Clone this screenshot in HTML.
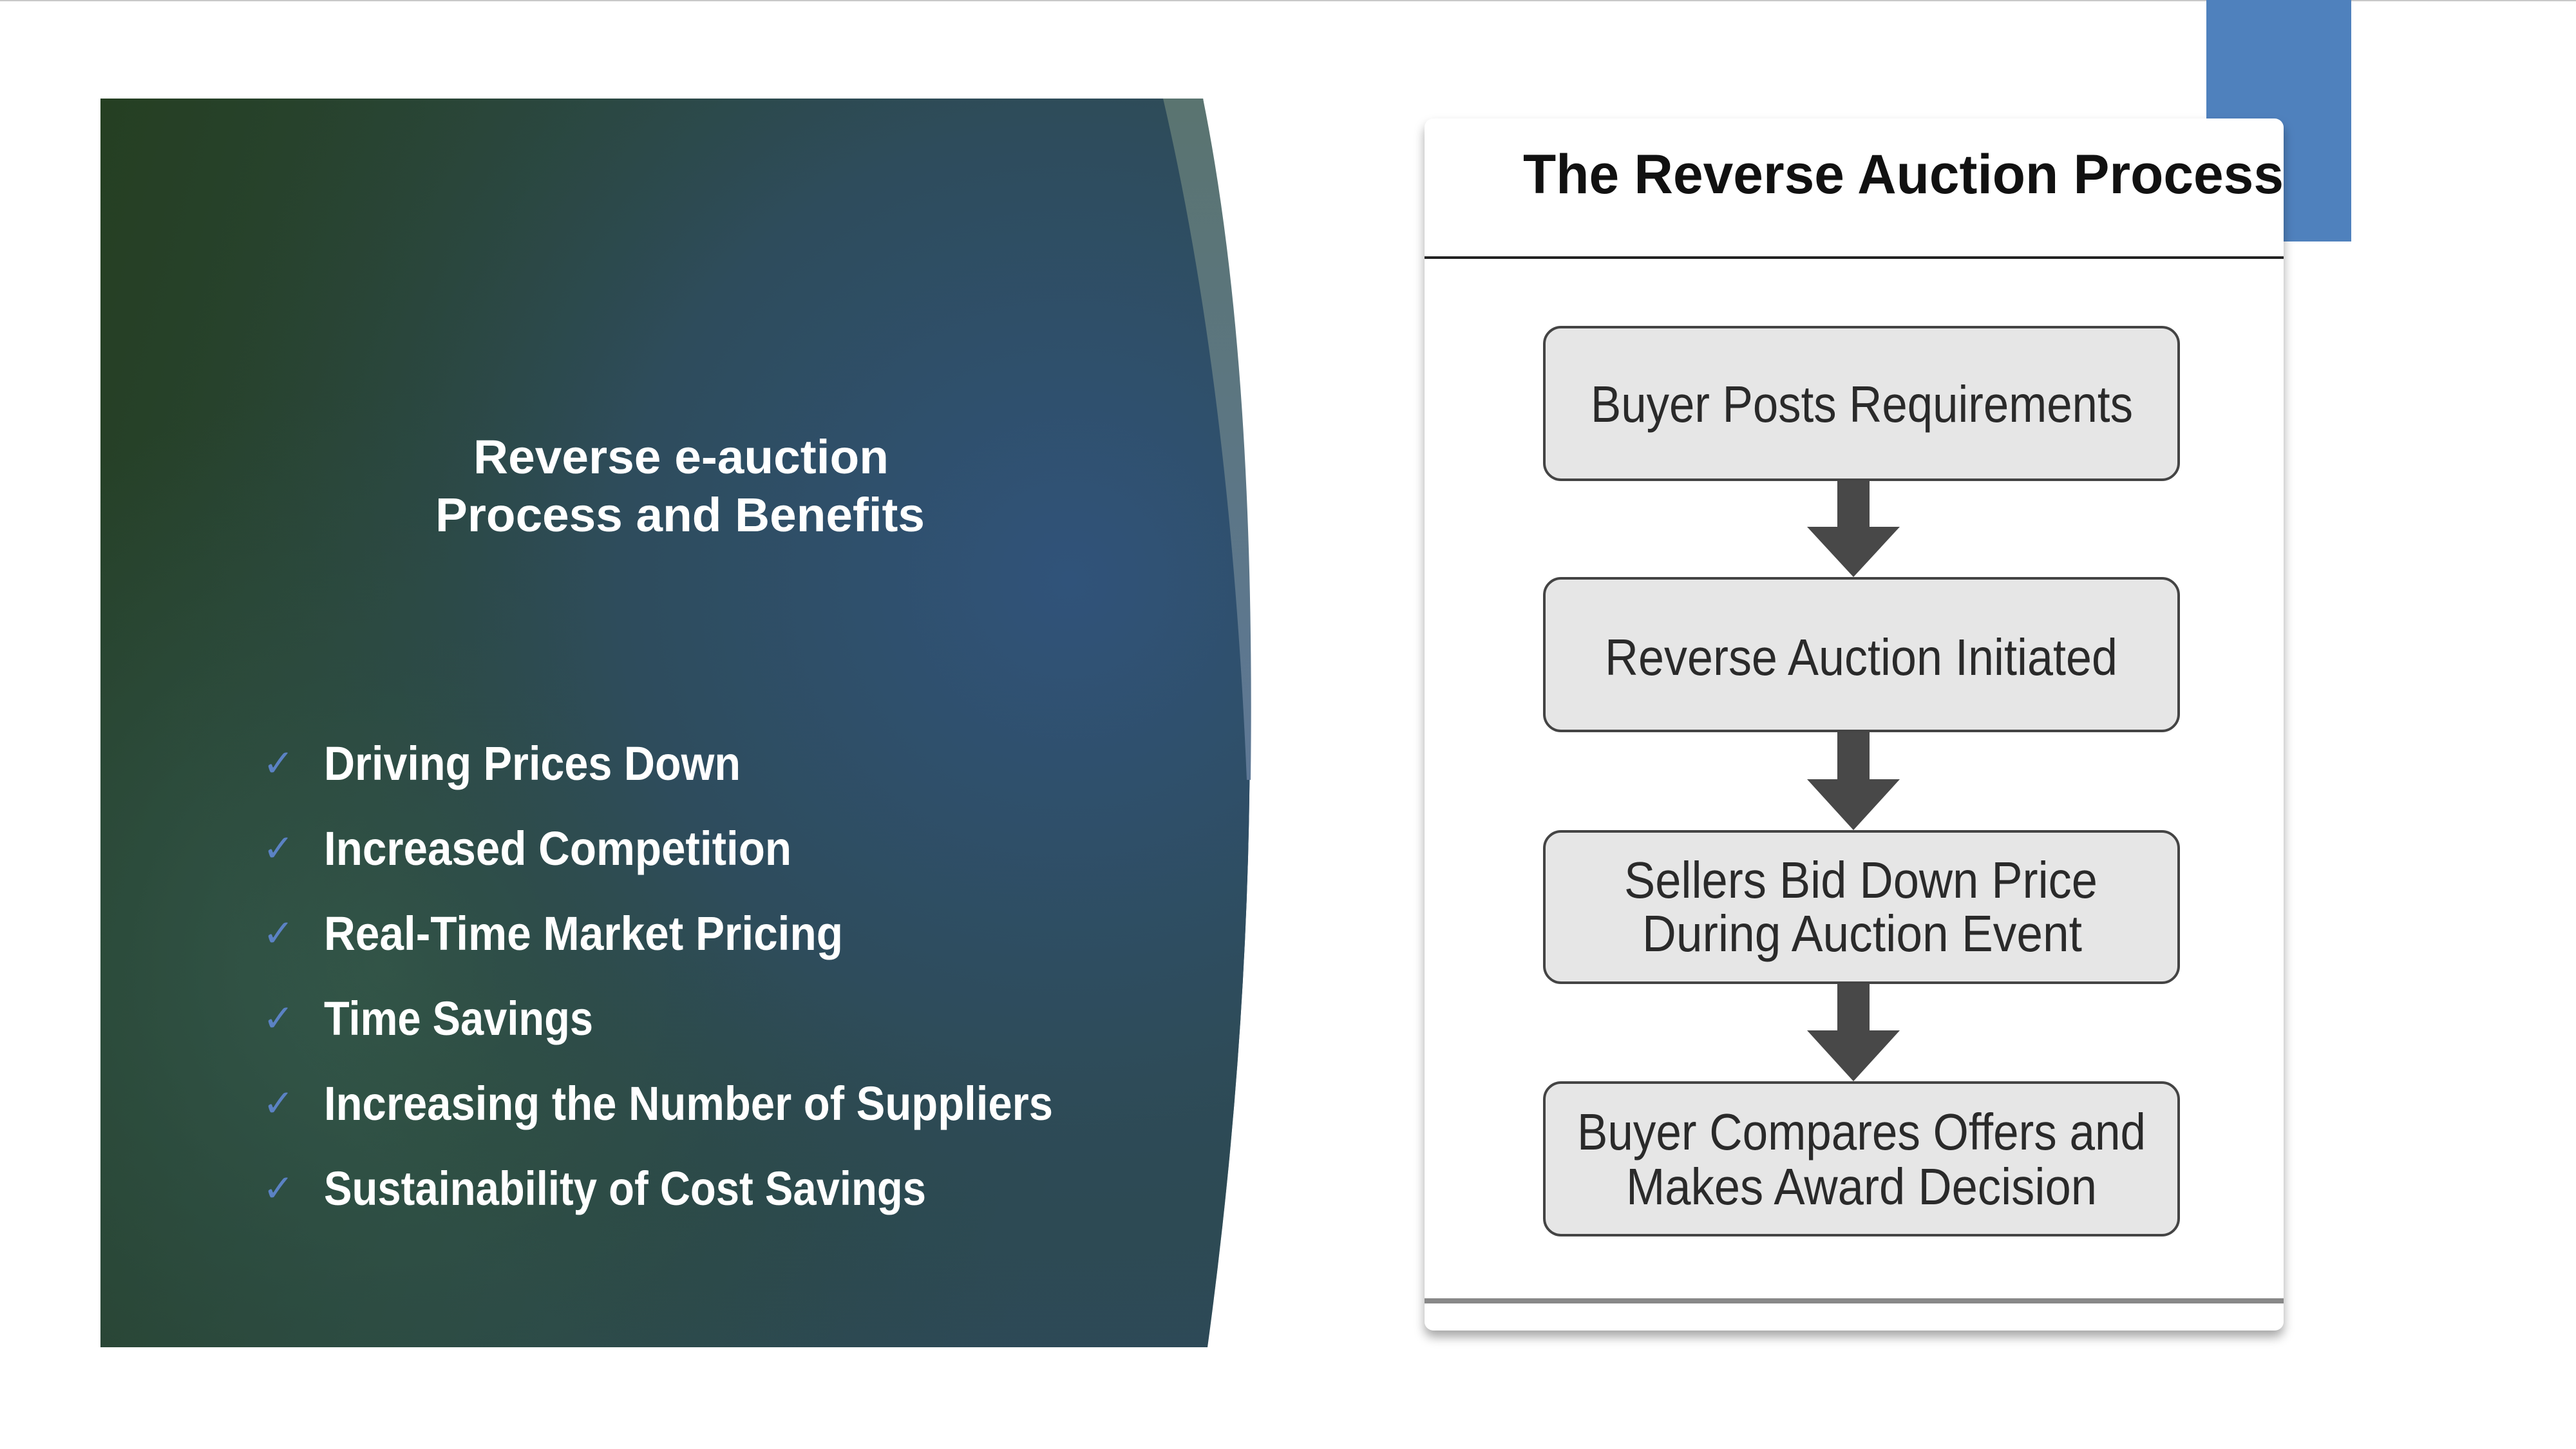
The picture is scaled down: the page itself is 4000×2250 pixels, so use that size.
<!DOCTYPE html>
<html><head><meta charset="utf-8"><style>
html,body{margin:0;padding:0;background:#fff;}
svg{display:block;}
</style></head><body>
<svg width="4000" height="2250" viewBox="0 0 4000 2250" xmlns="http://www.w3.org/2000/svg">
<defs>
<radialGradient id="gb" cx="1660" cy="900" r="1400" gradientUnits="userSpaceOnUse">
<stop offset="0" stop-color="#30537a"/><stop offset="0.5" stop-color="#2e4c5c"/><stop offset="1" stop-color="#2a4636" stop-opacity="0"/>
</radialGradient>
<radialGradient id="gg" cx="600" cy="1500" r="900" gradientUnits="userSpaceOnUse">
<stop offset="0" stop-color="#34584a"/><stop offset="1" stop-color="#2d4f45" stop-opacity="0"/>
</radialGradient>
<linearGradient id="base" x1="0" y1="0" x2="1" y2="0.3">
<stop offset="0" stop-color="#253f22"/><stop offset="0.5" stop-color="#2b4840"/><stop offset="1" stop-color="#2e4a60"/>
</linearGradient>
<linearGradient id="strip" x1="0" y1="0" x2="0" y2="1">
<stop offset="0" stop-color="#5a7470"/><stop offset="1" stop-color="#5e7896"/>
</linearGradient>
<filter id="sh" x="-5%" y="-5%" width="110%" height="110%"><feDropShadow dx="0" dy="10" stdDeviation="8" flood-color="#000" flood-opacity="0.35"/></filter>
</defs>
<line x1="0" y1="1" x2="4000" y2="1" stroke="#c8c8c8" stroke-width="2"/>
<path d="M156,153 L1868,153 Q2010,1100 1875,2092 L156,2092 Z" fill="url(#base)"/>
<path d="M156,153 L1868,153 Q2010,1100 1875,2092 L156,2092 Z" fill="url(#gg)"/>
<path d="M156,153 L1868,153 Q2010,1100 1875,2092 L156,2092 Z" fill="url(#gb)"/>
<path d="M1806,153 L1868,153 Q1950,560 1942,1211 L1936,1211 Q1910,600 1806,153 Z" fill="url(#strip)"/>
<g font-family="Liberation Sans, sans-serif" font-weight="bold" fill="#fff" font-size="74" lengthAdjust="spacingAndGlyphs">
<text x="735" y="735" textLength="645" lengthAdjust="spacingAndGlyphs">Reverse e-auction</text>
<text x="676" y="825" textLength="760" lengthAdjust="spacingAndGlyphs">Process and Benefits</text>
</g>
<g font-family="DejaVu Sans, sans-serif" fill="#5b82c4" font-size="58">
<text x="408" y="1205">✓</text><text x="408" y="1337">✓</text><text x="408" y="1469">✓</text>
<text x="408" y="1601">✓</text><text x="408" y="1733">✓</text><text x="408" y="1865">✓</text>
</g>
<g font-family="Liberation Sans, sans-serif" font-weight="bold" fill="#fff" font-size="74">
<text x="503" y="1211" textLength="647" lengthAdjust="spacingAndGlyphs">Driving Prices Down</text>
<text x="503" y="1343" textLength="726" lengthAdjust="spacingAndGlyphs">Increased Competition</text>
<text x="503" y="1475" textLength="806" lengthAdjust="spacingAndGlyphs">Real-Time Market Pricing</text>
<text x="503" y="1607" textLength="418" lengthAdjust="spacingAndGlyphs">Time Savings</text>
<text x="503" y="1739" textLength="1132" lengthAdjust="spacingAndGlyphs">Increasing the Number of Suppliers</text>
<text x="503" y="1871" textLength="935" lengthAdjust="spacingAndGlyphs">Sustainability of Cost Savings</text>
</g>
<rect x="3426" y="0" width="225" height="375" fill="#4f81bd"/>
<rect x="2212" y="184" width="1334" height="1882" rx="14" fill="#fff" filter="url(#sh)"/>
<line x1="2212" y1="400" x2="3546" y2="400" stroke="#222" stroke-width="4"/>
<line x1="2212" y1="2020" x2="3546" y2="2020" stroke="#888" stroke-width="8"/>
<text x="2365" y="300" font-family="Liberation Sans, sans-serif" font-weight="bold" font-size="86" fill="#111" textLength="1181" lengthAdjust="spacingAndGlyphs">The Reverse Auction Process</text>
<g fill="#e6e6e6" stroke="#444" stroke-width="4">
<rect x="2398" y="508" width="985" height="237" rx="26"/>
<rect x="2398" y="898" width="985" height="237" rx="26"/>
<rect x="2398" y="1291" width="985" height="235" rx="26"/>
<rect x="2398" y="1681" width="985" height="237" rx="26"/>
</g>
<g fill="#484848">
<path d="M2853,747 L2903,747 L2903,818 L2950,818 L2878,896 L2806,818 L2853,818 Z"/>
<path d="M2853,1137 L2903,1137 L2903,1210 L2950,1210 L2878,1289 L2806,1210 L2853,1210 Z"/>
<path d="M2853,1528 L2903,1528 L2903,1600 L2950,1600 L2878,1679 L2806,1600 L2853,1600 Z"/>
</g>
<g font-family="Liberation Sans, sans-serif" font-size="80" fill="#2a2a2a">
<text x="2470" y="655" textLength="842" lengthAdjust="spacingAndGlyphs">Buyer Posts Requirements</text>
<text x="2492" y="1048" textLength="796" lengthAdjust="spacingAndGlyphs">Reverse Auction Initiated</text>
<text x="2522" y="1394" textLength="735" lengthAdjust="spacingAndGlyphs">Sellers Bid Down Price</text>
<text x="2550" y="1477" textLength="683" lengthAdjust="spacingAndGlyphs">During Auction Event</text>
<text x="2449" y="1785" textLength="883" lengthAdjust="spacingAndGlyphs">Buyer Compares Offers and</text>
<text x="2525" y="1870" textLength="731" lengthAdjust="spacingAndGlyphs">Makes Award Decision</text>
</g>
</svg>
</body></html>
